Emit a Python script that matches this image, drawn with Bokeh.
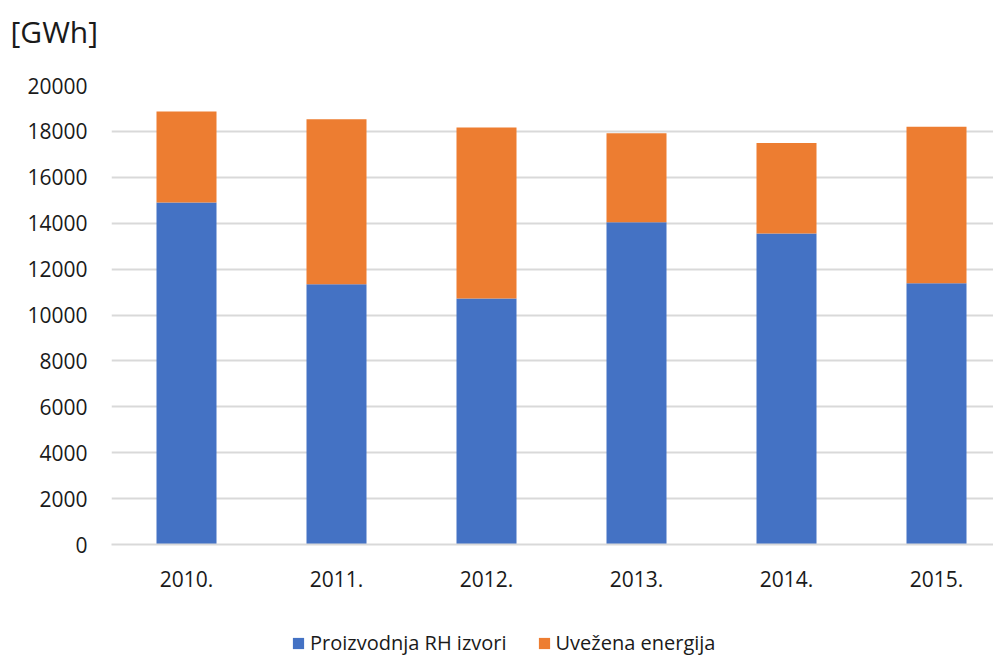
from bokeh.plotting import figure
from bokeh.models import Range1d, FixedTicker, Legend, LegendItem
from bokeh.layouts import column
from bokeh.embed import file_html
from bokeh.resources import INLINE

years = ["2010.", "2011.", "2012.", "2013.", "2014.", "2015."]
production = [14900, 11340, 10720, 14040, 13550, 11380]
imported_total = [18870, 18530, 18170, 17920, 17500, 18200]
imported = [t - p for t, p in zip(imported_total, production)]
y_ticks = list(range(0, 20001, 2000))
series_names = ["Proizvodnja RH izvori", "Uvežena energija"]
colors = ["#4472C4", "#ED7D31"]
unit_label = "[GWh]"

xs = list(range(len(years)))
data = dict(x=xs, prod=production, imp=imported)

FONT = "Open Sans"
W = 993

# --- title strip ---
top = figure(width=W, height=70, output_backend="svg", toolbar_location=None,
             x_range=Range1d(0, 1), y_range=Range1d(0, 1),
             x_axis_location=None, y_axis_location=None, title=unit_label,
             min_border_left=111, min_border_right=0, min_border_top=56,
             min_border_bottom=0)
top.grid.visible = False
top.outline_line_color = None
top.title.text_font = FONT
top.title.text_font_size = "30px"
top.title.text_font_style = "normal"
top.title.text_color = "#1a1a1a"
top.title.align = "left"
top.title.offset = -101
top.title.standoff = 10

# --- main chart ---
p = figure(width=W, height=526, output_backend="svg", toolbar_location=None,
           x_range=Range1d(-0.5, 5.38), y_range=Range1d(0, 20000),
           min_border_left=111, min_border_right=0, min_border_top=15,
           min_border_bottom=52)

rs = p.vbar_stack(["prod", "imp"], x="x", width=0.4, source=data,
                  color=colors, line_color=None)

p.outline_line_color = None
p.background_fill_color = "white"
p.border_fill_color = "white"

p.xaxis.ticker = FixedTicker(ticks=xs)
p.xaxis.major_label_overrides = {i: y for i, y in enumerate(years)}
p.yaxis.ticker = FixedTicker(ticks=y_ticks)
for ax in (p.xaxis, p.yaxis):
    ax.major_label_text_font = FONT
    ax.major_label_text_font_size = "21px"
    ax.major_label_text_color = "#1a1a1a"
    ax.major_tick_line_color = None
    ax.minor_tick_line_color = None
p.yaxis.axis_line_color = None
p.xaxis.axis_line_color = "#D9D9D9"
p.xaxis.axis_line_width = 2
p.yaxis.major_label_standoff = 18
p.xaxis.major_label_standoff = 20

p.xgrid.grid_line_color = None
p.ygrid.ticker = FixedTicker(ticks=y_ticks)
p.ygrid.grid_line_color = "#D9D9D9"
p.ygrid.grid_line_width = 2

# --- legend strip ---
lg = figure(width=W, height=60, output_backend="svg", toolbar_location=None,
            x_range=Range1d(-100, -99), y_range=Range1d(0, 1),
            x_axis_location=None, y_axis_location=None,
            min_border_left=111, min_border_right=0, min_border_top=0,
            min_border_bottom=0)
lg.grid.visible = False
lg.outline_line_color = None
lrs = lg.vbar_stack(["prod", "imp"], x="x", width=0.4, source=data,
                    color=colors, line_color=None)
items = [LegendItem(label=n, renderers=[r]) for n, r in zip(series_names, lrs)]
legend = Legend(items=items, location=(180, 0), orientation="horizontal",
                label_text_font=FONT, label_text_font_size="20px",
                label_text_color="#1a1a1a", glyph_width=14, glyph_height=14,
                label_standoff=5, spacing=30, padding=0, margin=0,
                border_line_color=None, background_fill_alpha=0)
lg.add_layout(legend, "center")

layout = column(top, p, lg, spacing=0)
open("out.html", "w").write(file_html(layout, INLINE))
